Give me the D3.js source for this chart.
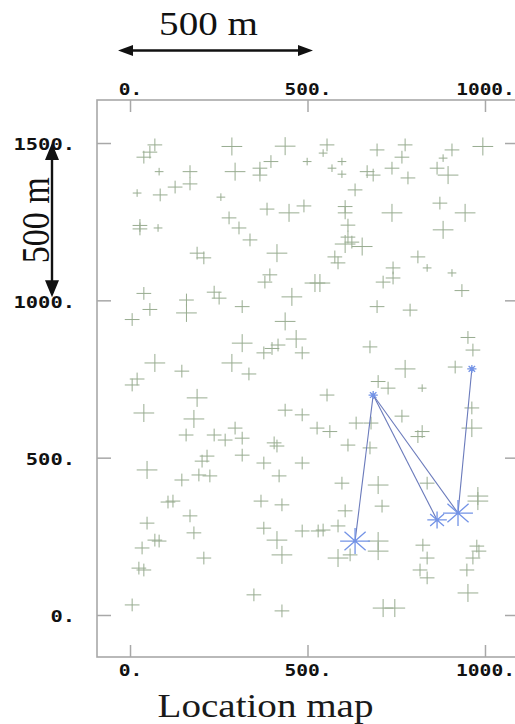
<!DOCTYPE html>
<html>
<head>
<meta charset="utf-8">
<script src="https://cdn.jsdelivr.net/npm/d3@7"></script>
<style>
  html, body { margin: 0; padding: 0; background: #fff; }
  svg { display: block; }
</style>
</head>
<body>
<svg id="chart" width="515" height="724"></svg>
<script>
// Station locations (m) and a size class for each cross marker
const stationX = [70,56,39,287,437,82,169,169,127,296,366,366,397,499,20,85,256,555,544,696,775,766,907,882,994,597,569,597,668,685,738,783,865,896,634,
  386,448,490,28,28,79,279,307,338,189,208,414,394,380,606,606,738,873,944,614,882,614,606,625,654,577,586,811,837,741,741,713,907,935,521,535,
  39,56,6,159,159,237,251,316,456,437,696,789,316,417,400,377,468,485,70,146,287,335,20,6,676,952,966,916,775,699,727,823,555,189,
  39,180,437,485,158,237,268,296,316,316,406,414,48,217,203,194,225,146,377,420,485,527,563,637,679,766,823,811,614,676,963,963,597,699,837,980,980,
  121,107,169,48,180,70,82,34,208,25,39,6,369,428,377,414,428,485,349,428,710,606,530,544,586,699,699,586,620,825,837,817,837,977,983,966,949,952,713,746];
const stationY = [1494,1471,1455,1489,1490,1409,1409,1370,1360,1409,1420,1398,1441,1441,1341,1335,1328,1494,1468,1478,1494,1455,1478,1452,1489,1441,1420,1401,1409,1398,1420,1389,1420,1398,1351,
  1290,1278,1300,1238,1227,1230,1262,1230,1192,1150,1135,1150,1081,1058,1298,1278,1278,1309,1278,1239,1224,1201,1179,1185,1171,1138,1119,1138,1103,1103,1071,1058,1087,1031,1055,1055,
  1022,971,939,1001,960,1026,1007,980,1011,933,980,969,864,858,847,833,877,833,801,775,801,766,750,731,852,882,842,788,782,742,721,721,699,690,
  642,623,651,636,572,572,556,594,562,508,547,537,461,505,489,445,442,429,483,442,483,594,583,610,610,632,583,567,540,531,658,594,419,413,419,378,362,
  362,359,315,292,261,238,235,213,181,149,143,32,362,350,276,238,191,267,64,13,346,331,267,270,283,235,203,181,191,222,181,143,118,219,203,181,143,70,22,22];
const stationClass = [2,2,2,3,3,1,2,2,2,3,2,2,2,1,1,2,1,2,1,2,2,2,2,1,3,1,1,1,2,2,2,2,2,3,2,
  2,3,2,2,2,1,2,2,2,2,2,3,2,2,2,2,3,2,3,2,3,2,3,2,3,2,2,2,1,2,2,2,1,2,3,3,
  2,2,2,2,3,2,2,2,3,3,2,2,3,2,2,2,3,2,3,2,3,2,2,2,2,2,2,2,3,2,2,1,2,3,
  3,3,2,2,2,2,2,2,2,2,2,2,3,2,2,2,2,2,2,2,2,2,2,2,2,2,2,2,2,2,2,3,2,3,2,3,3,
  2,2,2,2,2,2,2,2,2,2,2,2,2,2,2,3,3,2,2,2,2,2,2,2,2,3,3,3,2,2,2,2,2,2,2,2,2,3,3,3];

// Events (blue asterisks) and the links between them
const eventX = [685, 963, 634, 865, 924];
const eventY = [699, 782, 235, 302, 324];
const eventClass = [1, 1, 3, 2, 3];
const eventLinks = [[0, 2], [0, 3], [0, 4], [1, 4]];

// Axis ticks
const xTickValues = [0, 500, 1000];
const yTickValues = [0, 500, 1000, 1500];
const tickLabel = d => d + ".";

const titleText = "Location map";
const scaleBarText = "500 m";
const scaleBarLength = 500;

const svg = d3.select("#chart");
const frame = { left: 97, top: 100, right: 518, bottom: 657 };
const stretch = 1.15; // glyphs are drawn a little wider than tall

const x = d3.scaleLinear().domain([-93, 1093]).range([frame.left, frame.right]);
const y = d3.scaleLinear().domain([-133.5, 1636.7]).range([frame.bottom, frame.top]);
const crossSize = d3.scaleLinear().domain([1, 3]).range([3.8, 9]);
const starSize = d3.scaleLinear().domain([1, 3]).range([4, 13]);

const frameColor = "#a8a8a8";
const monoFont = "'DejaVu Sans Mono', 'Liberation Mono', monospace";
const serifFont = "'Liberation Serif', 'Times New Roman', serif";

// Plot frame
svg.append("rect")
  .attr("x", frame.left).attr("y", frame.top)
  .attr("width", frame.right - frame.left).attr("height", frame.bottom - frame.top)
  .attr("fill", "none").attr("stroke", frameColor).attr("stroke-width", 1.6);

function styleAxis(g, charW) {
  g.select(".domain").remove();
  g.selectAll(".tick line").attr("stroke", frameColor).attr("stroke-width", 1.5);
  g.selectAll(".tick text")
    .attr("fill", "#111")
    .style("font-family", monoFont)
    .style("font-size", "16px")
    .style("font-weight", "bold")
    .attr("textLength", d => tickLabel(d).length * charW)
    .attr("lengthAdjust", "spacingAndGlyphs");
}

// Top, bottom, left and right axes with ticks pointing inward
svg.append("g").attr("transform", `translate(0,${frame.top})`)
  .call(d3.axisTop(x).tickValues(xTickValues).tickFormat(tickLabel).tickSizeInner(-12).tickSizeOuter(0).tickPadding(5))
  .call(g => styleAxis(g, 11.7));
svg.append("g").attr("transform", `translate(0,${frame.bottom})`)
  .call(d3.axisBottom(x).tickValues(xTickValues).tickFormat(tickLabel).tickSizeInner(-12).tickSizeOuter(0).tickPadding(8))
  .call(g => styleAxis(g, 11.8));
svg.append("g").attr("transform", `translate(${frame.left},0)`)
  .call(d3.axisLeft(y).tickValues(yTickValues).tickFormat(tickLabel).tickSizeInner(-14).tickSizeOuter(0).tickPadding(22))
  .call(g => styleAxis(g, 12.3))
  .call(g => g.selectAll(".tick text").attr("dy", "0.42em"));
svg.append("g").attr("transform", `translate(${frame.right},0)`)
  .call(d3.axisRight(y).tickValues(yTickValues).tickFormat("").tickSizeInner(-13).tickSizeOuter(0))
  .call(g => styleAxis(g, 0));

// Station crosses
const plot = svg.append("g");
plot.selectAll("path.station")
  .data(stationX.map((v, i) => ({ x: v, y: stationY[i], c: stationClass[i] })))
  .join("path")
  .attr("class", "station")
  .attr("d", d => {
    const cx = x(d.x), cy = y(d.y), h = crossSize(d.c);
    const hw = h * stretch;
    return `M${cx - hw},${cy}H${cx + hw}M${cx},${cy - h}V${cy + h}`;
  })
  .attr("fill", "none")
  .attr("stroke", "#98ac90")
  .attr("stroke-width", 1);

// Links between events
plot.selectAll("line.link")
  .data(eventLinks)
  .join("line")
  .attr("class", "link")
  .attr("x1", d => x(eventX[d[0]])).attr("y1", d => y(eventY[d[0]]))
  .attr("x2", d => x(eventX[d[1]])).attr("y2", d => y(eventY[d[1]]))
  .attr("stroke", "#6a7abb").attr("stroke-width", 1.1);

// Event asterisks
plot.selectAll("path.event")
  .data(eventX.map((v, i) => ({ x: v, y: eventY[i], c: eventClass[i] })))
  .join("path")
  .attr("class", "event")
  .attr("d", d => {
    const cx = x(d.x), cy = y(d.y), r = starSize(d.c);
    let p = "";
    for (let k = 0; k < 4; k++) {
      const a = k * Math.PI / 4;
      const dx = Math.cos(a) * r * stretch, dy = Math.sin(a) * r;
      p += `M${cx - dx},${cy - dy}L${cx + dx},${cy + dy}`;
    }
    return p;
  })
  .attr("fill", "none")
  .attr("stroke", "#7393e6")
  .attr("stroke-width", 1.3);

// Scale bars
const ink = "#111";
function arrowHead(tx, ty, dirX, dirY, len, half) {
  const bx = tx - dirX * len, by = ty - dirY * len;
  const px = -dirY, py = dirX;
  return `M${tx},${ty}L${bx + px * half},${by + py * half}L${bx - px * half},${by - py * half}Z`;
}
const hbY = 50.5;
const hbX0 = x(0) - 12, hbX1 = x(scaleBarLength) + 5.5;
svg.append("line").attr("x1", hbX0 + 8).attr("x2", hbX1 - 8).attr("y1", hbY).attr("y2", hbY)
  .attr("stroke", ink).attr("stroke-width", 2.4);
svg.append("path").attr("d", arrowHead(hbX0, hbY, -1, 0, 15, 5.5) + arrowHead(hbX1, hbY, 1, 0, 15, 5.5)).attr("fill", ink);
svg.append("text")
  .attr("x", 0).attr("y", 0)
  .attr("transform", `translate(${(hbX0 + hbX1) / 2 - 7},35) scale(${stretch},1)`)
  .attr("text-anchor", "middle")
  .style("font-family", serifFont).style("font-size", "34px").attr("fill", ink)
  .text(scaleBarText);

const vbX = 52;
const vbY0 = y(1500), vbY1 = y(1500 - scaleBarLength) - 3;
svg.append("line").attr("x1", vbX).attr("x2", vbX).attr("y1", vbY0 + 8).attr("y2", vbY1 - 8)
  .attr("stroke", ink).attr("stroke-width", 2.4);
svg.append("path").attr("d", arrowHead(vbX, vbY0, 0, -1, 17, 7) + arrowHead(vbX, vbY1, 0, 1, 17, 7)).attr("fill", ink);
svg.append("text")
  .attr("x", 0).attr("y", 0)
  .attr("transform", `translate(49,${(vbY0 + vbY1) / 2}) scale(${stretch},1) rotate(-90)`)
  .attr("text-anchor", "middle")
  .style("font-family", serifFont).style("font-size", "34px").attr("fill", ink)
  .text(scaleBarText);

// Title
svg.append("text")
  .attr("x", 0).attr("y", 0)
  .attr("transform", `translate(265.5,717) scale(${stretch},1)`)
  .attr("text-anchor", "middle")
  .style("font-family", serifFont).style("font-size", "34px").attr("fill", "#1a1a1a")
  .text(titleText);
</script>
</body>
</html>
